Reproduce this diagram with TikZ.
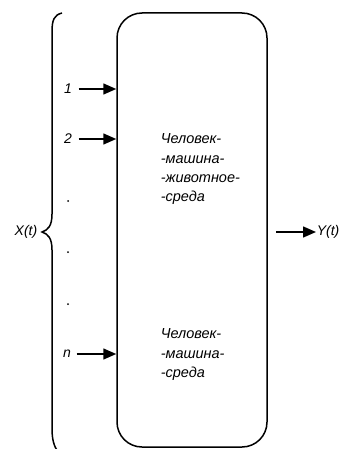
\documentclass[tikz,border=0pt]{standalone}
\usepackage{fontspec}
\setmainfont{Liberation Sans}
\usetikzlibrary{arrows.meta}
\begin{document}
\begin{tikzpicture}[x=1pt,y=-1pt,
  line width=1.5pt,
  lbl/.style={font=\itshape\fontsize{14}{16}\selectfont, inner sep=0pt},
  blocktext/.style={font=\itshape\fontsize{14.5}{19.3}\selectfont, align=left, inner sep=0pt, anchor=north west},
  feed/.style={-{Triangle[length=13pt,width=11pt]}, line width=1.5pt},
  dotmark/.style={circle, fill, inner sep=0pt, minimum size=2pt}]
\useasboundingbox (0,0) rectangle (343,449);

% system block
\node[draw, rounded corners=25pt, minimum width=150pt, minimum height=434pt, inner sep=0pt] (sys) at (192,230) {};

% inner descriptions
\node[blocktext] (t1) at (160,133) {Человек-\\-машина-\\-животное-\\-среда};
\node[blocktext] (t2) at (160,328) {Человек-\\-машина-\\-среда};

% inputs
\node[lbl] (in1) at (68,89) {1};
\node[lbl] (in2) at (68,139) {2};
\node[lbl] (inn) at (67,354) {n};
\draw[feed] (in1.east) ++(6pt,0) coordinate (s1) -- (sys.west |- s1);
\draw[feed] (in2.east) ++(6pt,0) coordinate (s2) -- (sys.west |- s2);
\draw[feed] (inn.east) ++(5pt,0) coordinate (sn) -- (sys.west |- sn);

% elision dots
\node[dotmark] (d1) at (68,201) {};
\node[dotmark] (d2) at (68,252) {};
\node[dotmark] (d3) at (68,304) {};

% input bundle brace
\coordinate (btop) at (62,13);
\coordinate (btip) at (42,232);
\coordinate (bbot) at (58,452);
\draw (btop) .. controls (54,15) and (52,20) .. (52,32)
  -- (52,214) .. controls (52,226) and (48,230) .. (btip)
  .. controls (48,234) and (52,238) .. (52,250)
  -- (52,428) .. controls (52,440) and (54,446) .. (bbot);
\node[lbl, anchor=east] (X) at (38,232) {X(t)};

% output
\coordinate (o0) at (276,232);
\node[lbl, anchor=west] (Y) at (316,232) {Y(t)};
\draw[feed] (o0) -- (Y.west);
\end{tikzpicture}
\end{document}
